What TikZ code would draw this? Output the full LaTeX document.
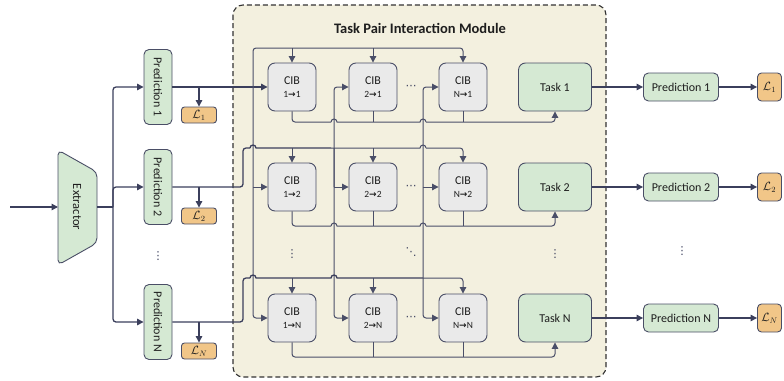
\documentclass[tikz,border=0pt]{standalone}
\usepackage{fontspec}
\setmainfont{Carlito}
\newfontfamily\symfont{DejaVu Sans}
\usetikzlibrary{arrows.meta}

\definecolor{gfill}{HTML}{D5E9D3}
\definecolor{cfill}{HTML}{EAEAEA}
\definecolor{ofill}{HTML}{F1C688}
\definecolor{mfill}{HTML}{F3F0DF}
\definecolor{boxline}{HTML}{4A4E66}
\definecolor{wc}{HTML}{3B3F5C}
\definecolor{wcin}{HTML}{4A4E68}
\definecolor{txt}{HTML}{1E1E1E}

\newcommand{\tarr}{{\symfont\bfseries\fontsize{9}{10}\selectfont →}}
\newcommand{\cibtext}[2]{CIB\\[-1pt]{\fontsize{9.5}{11}\selectfont #1\tarr #2}}
\newcommand{\vdotsglyph}{{\symfont\fontsize{11}{11}\selectfont ⋮}}
\newcommand{\hdotsglyph}{{\symfont\fontsize{11}{11}\selectfont ⋯}}
\newcommand{\ddotsglyph}{{\symfont\fontsize{11}{11}\selectfont ⋱}}

\tikzset{
  box/.style={draw=boxline, line width=0.9pt, inner sep=0pt, text=txt,
              font=\fontsize{12}{14}\selectfont},
  greenbox/.style={box, fill=gfill, rounded corners=5pt},
  pv/.style={greenbox, rotate=-90, minimum width=75pt, minimum height=28pt},
  ph/.style={greenbox, minimum width=75pt, minimum height=28pt},
  taskbox/.style={greenbox, minimum width=73pt, minimum height=48pt, rounded corners=7pt},
  cib/.style={box, fill=cfill, minimum width=48pt, minimum height=48pt,
              rounded corners=7pt, align=center},
  lossl/.style={box, fill=ofill, minimum width=35pt, minimum height=16pt, rounded corners=3pt},
  lossr/.style={box, fill=ofill, minimum width=24pt, minimum height=28pt, rounded corners=4pt},
  tip/.style={-{Triangle[length=6.5pt,width=6.5pt]}},
  wire/.style={draw=wc, line width=1.3pt, rounded corners=3pt},
  inwire/.style={draw=wcin, line width=1pt, rounded corners=3pt},
  hopwire/.style={draw=wcin, line width=1pt, sharp corners},
  dotsnode/.style={text=wc, inner sep=0pt},
}

\begin{document}
\begin{tikzpicture}[x=1pt,y=-1pt]
\useasboundingbox (0,0) rectangle (784,380);

% interaction module frame
\draw[draw=black!80, line width=1.1pt, dash pattern=on 5pt off 3pt, fill=mfill,
      rounded corners=10pt] (233,5) rectangle (606,377);
\node[font=\bfseries\fontsize{14.5}{16}\selectfont, text=txt] (title) at (420,28)
  {Task Pair Interaction Module};

% extractor
\draw[box, fill=gfill, rounded corners=5pt] (58,150) -- (97,172) -- (97,243) -- (58,265) -- cycle;
\node[rotate=-90, font=\fontsize{12.5}{14}\selectfont, text=txt] (ext) at (77,207) {Extractor};
\coordinate (src) at (10,207);
\coordinate (extin) at (58,207);
\coordinate (extout) at (97,207);
\coordinate (bus) at (113,207);

% task-specific predictions
\node[pv] (p1) at (158,87) {Prediction 1};
\node[pv] (p2) at (158,187) {Prediction 2};
\node[pv] (pN) at (158,322) {Prediction N};
\node[dotsnode] (pdots) at (158,256) {\vdotsglyph};

\node[lossl] (l1) at (199,115) {$\mathcal{L}_1$};
\node[lossl] (l2) at (199,216) {$\mathcal{L}_2$};
\node[lossl] (lN) at (199,351) {$\mathcal{L}_N$};

% CIB grid
\node[cib] (c11) at (292,87)  {\cibtext{1}{1}};
\node[cib] (c21) at (373,87)  {\cibtext{2}{1}};
\node[cib] (cn1) at (463,87)  {\cibtext{N}{1}};
\node[cib] (c12) at (292,187) {\cibtext{1}{2}};
\node[cib] (c22) at (373,187) {\cibtext{2}{2}};
\node[cib] (cn2) at (463,187) {\cibtext{N}{2}};
\node[cib] (c1n) at (292,318) {\cibtext{1}{N}};
\node[cib] (c2n) at (373,318) {\cibtext{2}{N}};
\node[cib] (cnn) at (463,318) {\cibtext{N}{N}};

\node[dotsnode] (hd1) at (411,87)  {\hdotsglyph};
\node[dotsnode] (hd2) at (411,187) {\hdotsglyph};
\node[dotsnode] (hdn) at (411,318) {\hdotsglyph};
\node[dotsnode] (vd1) at (292,254) {\vdotsglyph};
\node[dotsnode] (dd)  at (411,252) {\ddotsglyph};

% task heads
\node[taskbox] (t1) at (555,87)  {Task 1};
\node[taskbox] (t2) at (555,187) {Task 2};
\node[taskbox] (tN) at (555,318) {Task N};
\node[dotsnode] (td) at (555,254) {\vdotsglyph};

% final predictions and losses
\node[ph] (q1) at (681,87)  {Prediction 1};
\node[ph] (q2) at (681,187) {Prediction 2};
\node[ph] (qN) at (681,318) {Prediction N};
\node[dotsnode] (qd) at (682,251) {\vdotsglyph};
\node[lossr] (r1) at (769.5,87)  {$\mathcal{L}_1$};
\node[lossr] (r2) at (769.5,187) {$\mathcal{L}_2$};
\node[lossr] (rN) at (769.5,318) {$\mathcal{L}_N$};

% ---- input side ----
\draw[wire,tip] (src) -- (extin);
\draw[wire] (extout) -- (bus);
\draw[wire,tip] (bus) -- (113,87) -- (p1.south);
\draw[wire,tip] (bus) -- (113,187) -- (p2.south);
\draw[wire,tip] (bus) -- (113,322) -- (pN.south);

% prediction outputs and auxiliary losses
\coordinate (b1) at (199,87);
\coordinate (b2) at (199,187);
\coordinate (bN) at (199,322);
\draw[wire,tip] (p1.north) -- (c11.west);
\draw[wire,tip] (b1) -- (l1.north);
\draw[wire,tip] (b2) -- (l2.north);
\draw[wire,tip] (bN) -- (lN.north);

% ---- task 1 feature: column 1 and row 1 ----
\draw[inwire,tip] (253,87) -- (253,48) -- (463,48) -- (cn1.north);
\draw[inwire,tip] (292,48) -- (c11.north);
\draw[inwire,tip] (373,48) -- (c21.north);
\draw[inwire,tip] (253,87) -- (253,318) -- (c1n.west);
\draw[inwire,tip] (253,187) -- (c12.west);

% ---- task 2 feature: row 2 and column 2 ----
\draw[wire] (p2.north) -- (243,187) -- (243,148) -- (250,148);
\draw[hopwire, line width=1.3pt, draw=wc] (250,148) arc[start angle=180,end angle=0,radius=3pt] -- (331,148);
\draw[hopwire] (331,148) -- (420,148)
  arc[start angle=180,end angle=0,radius=3pt] -- (426,148);
\draw[inwire,tip] (426,148) -- (463,148) -- (cn2.north);
\draw[inwire,tip] (292,148) -- (c12.north);
\draw[inwire,tip] (373,148) -- (c22.north);
\draw[inwire,tip] (334,187) -- (334,87) -- (c21.west);
\draw[inwire,tip] (334,148) -- (334,318) -- (c2n.west);
\draw[inwire,tip] (334,187) -- (c22.west);

% ---- task N feature: row N and column N ----
\draw[wire] (pN.north) -- (243,322) -- (243,278) -- (250,278);
\draw[hopwire, line width=1.3pt, draw=wc] (250,278) arc[start angle=180,end angle=0,radius=3pt] -- (331,278)
  arc[start angle=180,end angle=0,radius=3pt] -- (337,278) -- (423,278);
\draw[inwire,tip] (423,278) -- (463,278) -- (cnn.north);
\draw[inwire,tip] (292,278) -- (c1n.north);
\draw[inwire,tip] (373,278) -- (c2n.north);
\draw[inwire,tip] (423,187) -- (423,87) -- (cn1.west);
\draw[inwire,tip] (423,187) -- (423,318) -- (cnn.west);
\draw[inwire,tip] (423,187) -- (cn2.west);

% ---- CIB outputs gathered per target task ----
\draw[inwire] (c11.south) -- (292,122) -- (331,122);
\draw[hopwire] (331,122) arc[start angle=180,end angle=0,radius=3pt] -- (420,122)
  arc[start angle=180,end angle=0,radius=3pt] -- (426,122);
\draw[inwire,tip] (426,122) -- (555,122) -- (t1.south);
\draw[inwire] (c21.south) -- (373,122);
\draw[inwire] (cn1.south) -- (463,122);

\draw[inwire] (c12.south) -- (292,226) -- (331,226);
\draw[hopwire] (331,226) arc[start angle=180,end angle=0,radius=3pt] -- (420,226)
  arc[start angle=180,end angle=0,radius=3pt] -- (426,226);
\draw[inwire,tip] (426,226) -- (555,226) -- (t2.south);
\draw[inwire] (c22.south) -- (373,226);
\draw[inwire] (cn2.south) -- (463,226);

\draw[inwire,tip] (c1n.south) -- (292,357) -- (555,357) -- (tN.south);
\draw[inwire] (c2n.south) -- (373,357);
\draw[inwire] (cnn.south) -- (463,357);

% ---- output side ----
\draw[wire,tip] (t1.east) -- (q1.west);
\draw[wire,tip] (t2.east) -- (q2.west);
\draw[wire,tip] (tN.east) -- (qN.west);
\draw[wire,tip] (q1.east) -- (r1.west);
\draw[wire,tip] (q2.east) -- (r2.west);
\draw[wire,tip] (qN.east) -- (rN.west);
\end{tikzpicture}
\end{document}
